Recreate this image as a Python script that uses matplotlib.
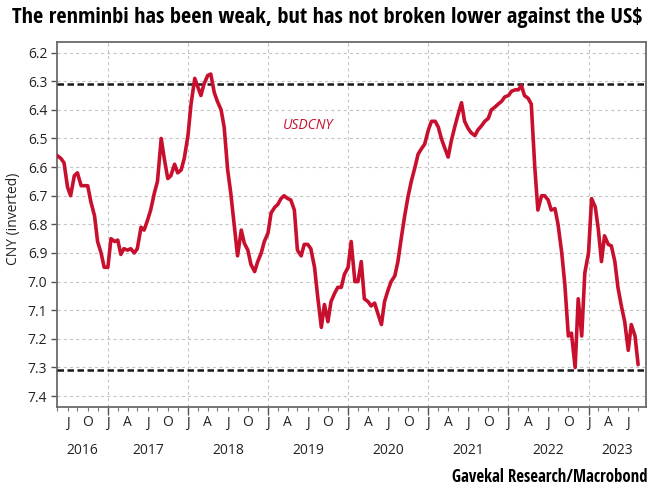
import matplotlib
matplotlib.use("Agg")
import matplotlib.pyplot as plt
import matplotlib.dates as mdates
from matplotlib import font_manager as fm
from matplotlib.transforms import blended_transform_factory
import pandas as pd

# ---------------- data (USDCNY, semi-monthly readings) ----------------
usdcny_2016 = [6.56, 6.57, 6.585, 6.67, 6.70, 6.63, 6.62, 6.665, 6.665, 6.665,
               6.72, 6.77, 6.86, 6.90, 6.95]
usdcny_2017 = [6.95, 6.85, 6.86, 6.855, 6.905, 6.885, 6.89, 6.885, 6.90, 6.885,
               6.81, 6.82, 6.785, 6.75, 6.69, 6.65, 6.50, 6.57, 6.64, 6.63,
               6.59, 6.62, 6.61, 6.57]
usdcny_2018 = [6.49, 6.38, 6.29, 6.32, 6.35, 6.31, 6.28, 6.275, 6.34, 6.37,
               6.40, 6.46, 6.61, 6.69, 6.81, 6.91, 6.82, 6.866, 6.89, 6.94,
               6.965, 6.93, 6.90, 6.86]
usdcny_2019 = [6.83, 6.76, 6.74, 6.73, 6.71, 6.70, 6.71, 6.715, 6.75, 6.89,
               6.91, 6.87, 6.87, 6.885, 6.95, 7.05, 7.16, 7.08, 7.14, 7.07,
               7.04, 7.02, 7.02, 6.975]
usdcny_2020 = [6.95, 6.86, 7.00, 7.00, 6.93, 7.06, 7.07, 7.085, 7.075, 7.11,
               7.15, 7.07, 7.03, 7.00, 6.98, 6.93, 6.84, 6.77, 6.70, 6.65,
               6.60, 6.555, 6.535, 6.52]
usdcny_2021 = [6.47, 6.44, 6.44, 6.46, 6.50, 6.53, 6.565, 6.51, 6.46, 6.42,
               6.375, 6.44, 6.465, 6.48, 6.49, 6.47, 6.455, 6.44, 6.43, 6.40,
               6.39, 6.38, 6.37, 6.355]
usdcny_2022 = [6.35, 6.335, 6.33, 6.33, 6.315, 6.35, 6.36, 6.38, 6.60, 6.75,
               6.70, 6.70, 6.715, 6.75, 6.745, 6.80, 6.90, 7.01, 7.19, 7.18,
               7.30, 7.06, 7.19, 6.97]
usdcny_2023 = [6.90, 6.71, 6.74, 6.82, 6.93, 6.84, 6.87, 6.875, 6.93, 7.02,
               7.09, 7.14, 7.24, 7.15, 7.19, 7.29]

series_start = "2016-05-15"
series_end = "2023-08-15"

reference_levels = [6.308, 7.31]
y_ticks = [6.2, 6.3, 6.4, 6.5, 6.6, 6.7, 6.8, 6.9, 7.0, 7.1, 7.2, 7.3, 7.4]
years = [2016, 2017, 2018, 2019, 2020, 2021, 2022, 2023]
quarter_letters = {1: "J", 4: "A", 7: "J", 10: "O"}

title = "The renminbi has been weak, but has not broken lower against the US$"
source = "Gavekal Research/Macrobond"
series_label = "USDCNY"
y_label = "CNY (inverted)"

# ---------------- build ----------------
values = (usdcny_2016 + usdcny_2017 + usdcny_2018 + usdcny_2019 +
          usdcny_2020 + usdcny_2021 + usdcny_2022 + usdcny_2023)
dates = pd.date_range(series_start, series_end, freq="SMS")
n = min(len(dates), len(values))
dates = dates[:n]
values = values[:n]

installed = {f.name for f in fm.fontManager.ttflist}
def pick(cands, default="DejaVu Sans"):
    for c in cands:
        if c in installed:
            return c
    return default

body_font = pick(["Open Sans", "Noto Sans", "Lato", "DejaVu Sans"])
cond_font = pick(["Liberation Sans Narrow", "Open Sans Condensed",
                  "Roboto Condensed", "DejaVu Sans Condensed", "Roboto",
                  "Open Sans"])

plt.rcParams["font.family"] = [body_font, "DejaVu Sans"]

W, H = 657, 492
fig = plt.figure(figsize=(W / 100, H / 100), dpi=100)
L, R, T, B = 57, 646, 42, 407
ax = fig.add_axes([L / W, 1 - B / H, (R - L) / W, (B - T) / H])

red = "#C8102E"
ax.plot(dates, values, color=red, lw=2.6, solid_joinstyle="round",
        solid_capstyle="round", zorder=4)

for lvl in reference_levels:
    ax.axhline(lvl, color="#1a1a1a", lw=1.8, ls=(0, (2.6, 1.4)), zorder=3)

x_lo = pd.Timestamp("2016-05-14")
x_hi = pd.Timestamp("2023-09-20")

ax.set_yticks(y_ticks)
ax.set_yticklabels([f"{v:.1f}" for v in y_ticks])

major = [pd.Timestamp(f"{y}-01-01") for y in years[1:]]
minor = []
for y in years:
    for m, d in [(1, 1), (2, 15), (4, 1), (5, 15), (7, 1), (8, 15), (10, 1), (11, 15)]:
        ts = pd.Timestamp(year=y, month=m, day=d)
        if not (m == 1 and d == 1) and x_lo <= ts <= x_hi:
            minor.append(ts)
ax.set_xticks(major)
ax.set_xticks(minor, minor=True)
ax.set_xticklabels([])

ax.set_ylim(7.438, 6.163)
ax.set_xlim(x_lo, x_hi)

grid_kw = dict(color="#c4c4c4", lw=0.8, ls=(0, (2.8, 2.8)))
ax.yaxis.grid(True, **grid_kw)
ax.xaxis.grid(True, which="major", **grid_kw)
ax.set_axisbelow(True)

for s in ax.spines.values():
    s.set_color("#6a6a6a")
    s.set_linewidth(1.3)

ax.tick_params(axis="y", direction="out", length=4, width=1, color="#555555",
               labelsize=10, labelcolor="#222222", pad=3)
ax.tick_params(axis="x", which="major", direction="out", length=6, width=1,
               color="#555555")
ax.tick_params(axis="x", which="minor", direction="out", length=3, width=0.8,
               color="#777777")

# month letters and year labels
trans = blended_transform_factory(ax.transData, fig.transFigure)
xmin, xmax = mdates.date2num(x_lo), mdates.date2num(x_hi)
for y in years:
    for m, letter in quarter_letters.items():
        ts = pd.Timestamp(year=y, month=m, day=1)
        xv = mdates.date2num(ts)
        if xmin <= xv <= xmax:
            ax.text(xv, 1 - 423 / H, letter, transform=trans, ha="center",
                    va="center", fontsize=10, color="#222222")
    a = max(mdates.date2num(pd.Timestamp(f"{y}-01-01")), xmin)
    b = min(mdates.date2num(pd.Timestamp(f"{y + 1}-01-01")), xmax)
    ax.text((a + b) / 2, 1 - 450 / H, str(y), transform=trans, ha="center",
            va="center", fontsize=10, color="#222222")

ax.text(mdates.date2num(pd.Timestamp("2019-07-01")), 6.456, series_label,
        color=red, fontsize=10, style="italic", ha="center", va="center")

fig.text(13.5 / W, 1 - 219 / H, y_label, rotation=90, ha="center", va="center",
         fontsize=10, color="#222222")

t_title = fig.text(327.5 / W, 1 - 18 / H, title, ha="center", va="center",
                   fontsize=14, fontweight="bold", family=[cond_font, "DejaVu Sans"],
                   color="#000000")
t_src = fig.text(647 / W, 1 - 477 / H, source, ha="right", va="center",
                 fontsize=10, fontweight="bold", family=[cond_font, "DejaVu Sans"],
                 color="#000000")

# scale the two condensed texts to their widths in the reference
fig.canvas.draw()
renderer = fig.canvas.get_renderer()
for txt, target in [(t_title, 635), (t_src, 196)]:
    w = txt.get_window_extent(renderer).width
    txt.set_fontsize(txt.get_fontsize() * target / w)

fig.savefig("out.png", dpi=100)
